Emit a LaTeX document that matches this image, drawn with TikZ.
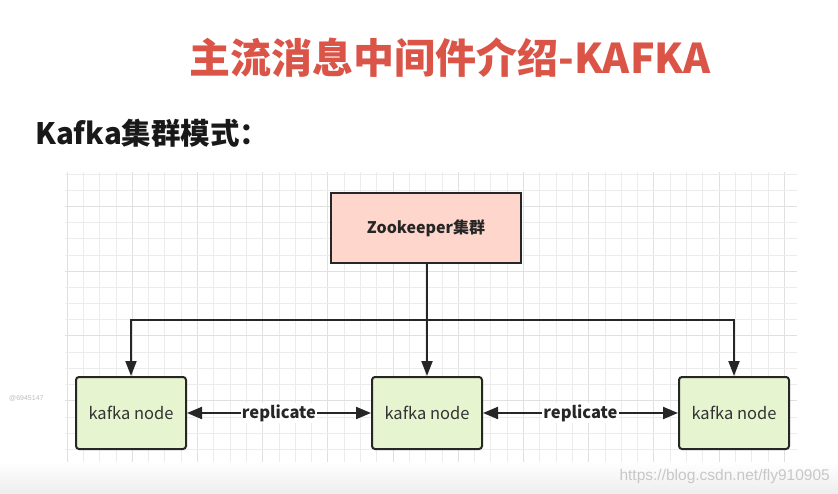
\documentclass[tikz,border=0pt]{standalone}
\usepackage{fontspec}
\setmainfont{Noto Sans CJK SC}
\setsansfont{Liberation Sans}
\usetikzlibrary{arrows.meta}
\definecolor{titlered}{RGB}{218,85,72}
\definecolor{zkfill}{RGB}{255,214,204}
\definecolor{kfill}{RGB}{230,245,208}
\definecolor{edge}{RGB}{38,38,38}
\definecolor{gridminor}{RGB}{236,236,236}
\definecolor{gridmajor}{RGB}{224,224,224}
\tikzset{
  zkbox/.style={draw=edge, line width=2pt, fill=zkfill, minimum width=190pt, minimum height=70pt, font=\fontsize{16}{18}\selectfont\bfseries, text=black!85},
  kbox/.style={draw=edge, line width=2pt, fill=kfill, rounded corners=3pt, minimum width=110pt, minimum height=72pt, font=\fontsize{16.5}{18}\selectfont, text=black!80},
  arr/.style={draw=edge, line width=2pt, -{Triangle[length=15pt,width=11pt]}},
  darr/.style={draw=edge, line width=2pt, {Triangle[length=15pt,width=12pt]}-{Triangle[length=15pt,width=12pt]}},
  replabel/.style={fill=white, inner sep=1pt, font=\fontsize{16.5}{18}\selectfont\bfseries, text=black!85},
}
\begin{document}
\begin{tikzpicture}[x=1pt,y=-1pt]
\useasboundingbox (0,0) rectangle (838,494);
\fill[white] (0,0) rectangle (838,494);
\shade[top color=white, bottom color=black!7] (0,462) rectangle (838,494);
% grid
\foreach \i in {0,...,44} {
  \pgfmathsetmacro{\xx}{67+16.3*\i}
  \pgfmathtruncatemacro{\m}{mod(\i,4)}
  \ifnum\m=0
    \draw[gridmajor, line width=1pt] (\xx,172) -- (\xx,462);
  \else
    \draw[gridminor, line width=0.8pt] (\xx,172) -- (\xx,462);
  \fi
}
\foreach \j in {0,...,17} {
  \pgfmathsetmacro{\yy}{174+16.2*\j}
  \pgfmathtruncatemacro{\m}{mod(\j,4)}
  \ifnum\m=2
    \draw[gridmajor, line width=1pt] (65,\yy) -- (797,\yy);
  \else
    \draw[gridminor, line width=0.8pt] (65,\yy) -- (797,\yy);
  \fi
}
% title texts
\node[anchor=center, text=titlered, font=\fontsize{41}{45}\selectfont\bfseries] (title) at (450,58) {主流消息中间件介绍-KAFKA};
\node[anchor=west, text=black!90, font=\fontsize{29.5}{33}\selectfont\bfseries, inner sep=0pt] (sub) at (35,133) {Kafka集群模式：};
% nodes
\node[zkbox] (zk) at (426,228) {Zookeeper集群};
\node[kbox] (k1) at (131,413) {kafka node};
\node[kbox] (k2) at (427,413) {kafka node};
\node[kbox] (k3) at (734,413) {kafka node};
\coordinate (j) at (427,320);
% connectors
\draw[arr] (zk.south -| k2) -- (k2.north);
\draw[arr] (j) -| (k1.north);
\draw[arr] (j) -| (k3.north);
\draw[darr] (k1.east) -- node[replabel] (r1) {replicate} (k2.west);
\draw[darr] (k2.east) -- node[replabel] (r2) {replicate} (k3.west);
% watermarks
\node[anchor=west, text=black!25, font=\sffamily\fontsize{7}{8}\selectfont, inner sep=0pt] (wm1) at (9,398) {@6945147};
\node[anchor=east, text=black!22, font=\sffamily\fontsize{15.5}{18}\selectfont, inner sep=0pt] (wm2) at (830,476) {https://blog.csdn.net/fly910905};
\end{tikzpicture}
\end{document}
